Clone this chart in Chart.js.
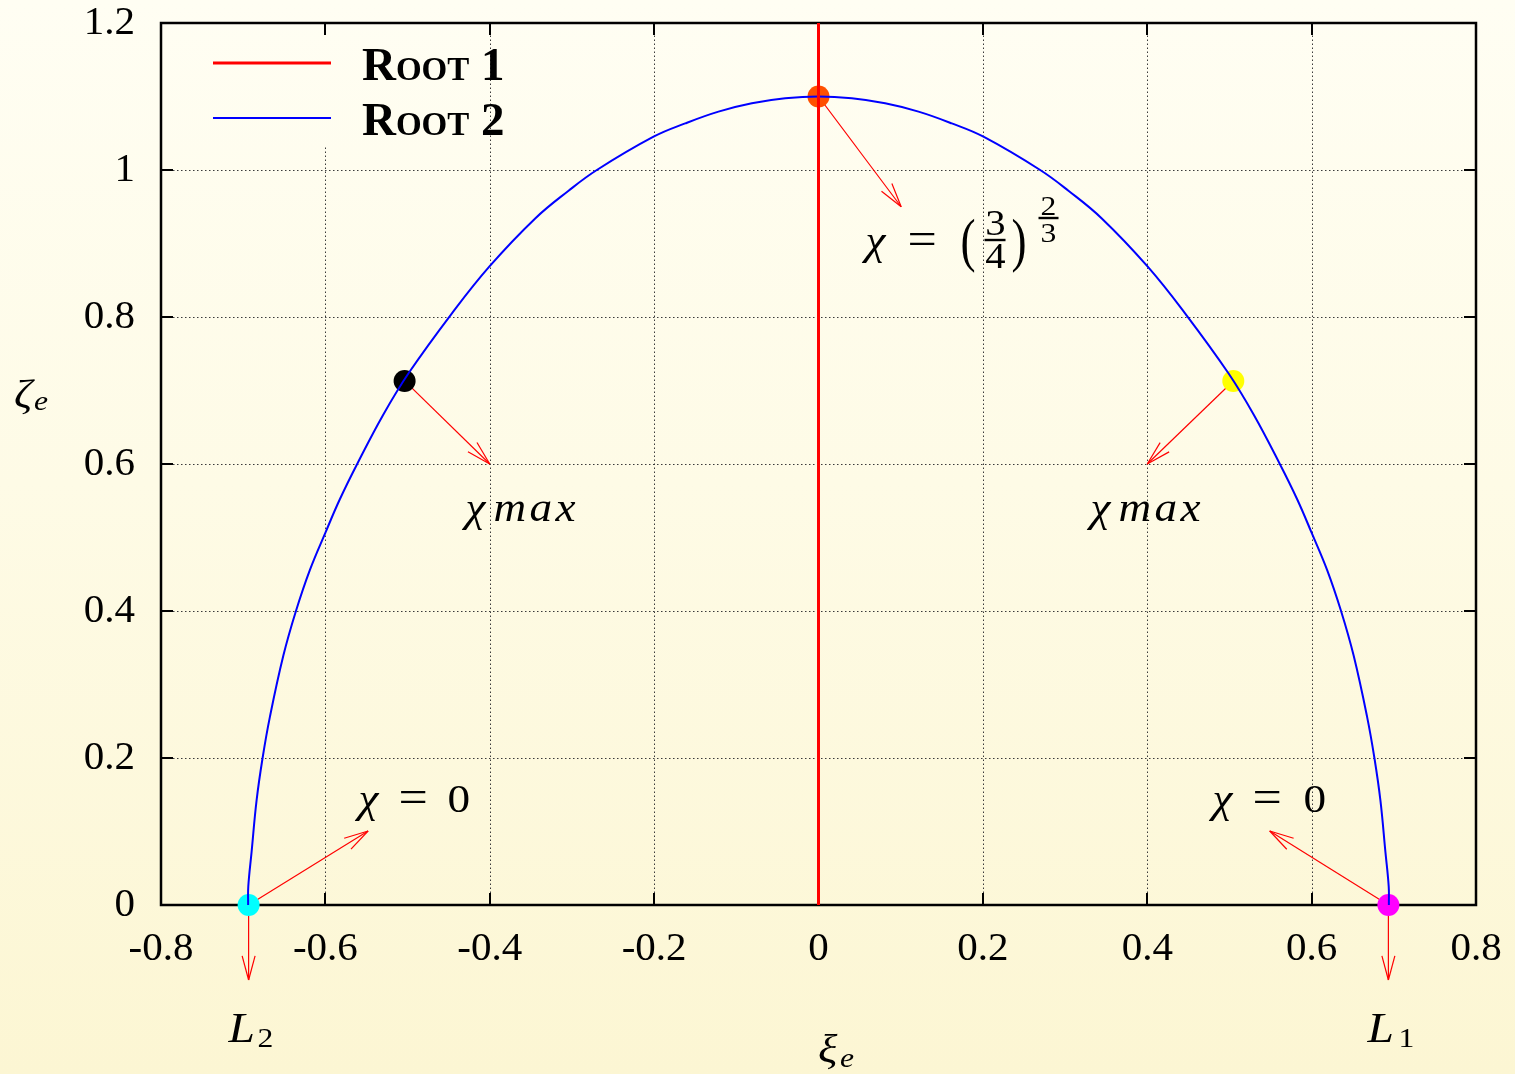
<!DOCTYPE html>
<html>
<head>
<meta charset="utf-8">
<script src="https://cdn.jsdelivr.net/npm/chart.js@4.4.1/dist/chart.umd.min.js"></script>
<style>
  html, body { margin: 0; padding: 0; }
  body {
    width: 1515px; height: 1074px; overflow: hidden;
    background: linear-gradient(to bottom, #fffef3 0%, #fefbe6 45%, #fcf6d3 100%);
  }
  canvas { display: block; }
</style>
</head>
<body>
<canvas id="c" width="1515" height="1074"></canvas>
<script>
// ---- data -------------------------------------------------------------
// Root 2: equilibrium curve zeta_e(xi_e), from the L2 foot over the top to the L1 foot
const root2Xi = [
  -0.694, -0.6938, -0.6898, -0.6837, -0.6764, -0.6675, -0.6512, -0.6358, -0.6188,
  -0.5998, -0.5824, -0.5613, -0.5296, -0.4988, -0.446, -0.4006, -0.3447, -0.3041,
  -0.2697, -0.2007, -0.1622, -0.1217, -0.0811, -0.0405, 0,
  0.0405, 0.0811, 0.1217, 0.1622, 0.2007, 0.2697, 0.3041, 0.3447,
  0.4006, 0.446, 0.4988, 0.5296, 0.5613, 0.5824, 0.5998, 0.6188, 0.6358,
  0.6512, 0.6675, 0.6764, 0.6837, 0.6898, 0.6938, 0.694
];
const root2Zeta = [
  0, 0.025, 0.072, 0.1423, 0.2, 0.256, 0.339, 0.4, 0.456,
  0.507, 0.552, 0.6, 0.667, 0.7234, 0.805, 0.8685, 0.9341, 0.9718,
  1.0, 1.0453, 1.0634, 1.0794, 1.0907, 1.0975, 1.1,
  1.0975, 1.0907, 1.0794, 1.0634, 1.0453, 1.0, 0.9718, 0.9341,
  0.8685, 0.805, 0.7234, 0.667, 0.6, 0.552, 0.507, 0.456, 0.4,
  0.339, 0.256, 0.2, 0.1423, 0.072, 0.025, 0
];
// Root 1: the xi_e = 0 branch
const root1Xi = [0, 0];
const root1Zeta = [0, 1.2];
// special points: chi = (3/4)^(2/3), chi_max (left, right), L2, L1
const markerXi = [0, -0.5036, 0.5047, -0.6934, 0.6934];
const markerZeta = [1.1, 0.713, 0.713, 0, 0];

const seriesNames = ['Root 1', 'Root 2'];
const xTickLabels = ['-0.8', '-0.6', '-0.4', '-0.2', '0', '0.2', '0.4', '0.6', '0.8'];
const yTickLabels = ['0', '0.2', '0.4', '0.6', '0.8', '1', '1.2'];
const xTitle = ['ξ', 'e'];
const yTitle = ['ζ', 'e'];

// ---- styling ----------------------------------------------------------
const markerColors = ['#ff5000', '#000000', '#ffff00', '#00ffff', '#ff00ff'];
const SERIF = '"Liberation Serif", "Times New Roman", serif';
const STRETCH = 1.13;          // math glyphs are set a little wide
const KEY_W = 190, KEY_H = 122; // the key box keeps grid lines out of it

// arrows: from a special point (index into marker arrays) to a target in data units
const arrows = [
  { from: 0, to: [0.1006, 0.950] },
  { from: 1, to: [-0.4, 0.6] },
  { from: 2, to: [0.4, 0.6] },
  { from: 3, to: [-0.548, 0.1007] },
  { from: 4, to: [0.549, 0.1007] },
  { from: 3, to: [-0.6934, -0.102] },
  { from: 4, to: [0.6934, -0.102] }
];

// annotation labels: anchor in data units, pieces offset in pixels from the anchor
const annotations = [
  { at: [0.0572, 0.8857], pieces: [
      { t: 'χ', dx: 0, dy: 0, f: 'italic 40px', a: 'left' },
      { t: '=', dx: 42, dy: 0, f: '46px', a: 'left' },
      { t: '(', dx: 95, dy: 6, f: '40px', a: 'left', sy: 1.5 },
      { t: '3', dx: 130, dy: -19, f: '36px', a: 'center' },
      { bar: [119, 140, -14] },
      { t: '4', dx: 130, dy: 14, f: '36px', a: 'center' },
      { t: ')', dx: 146, dy: 6, f: '40px', a: 'left', sy: 1.5 },
      { t: '2', dx: 183, dy: -39, f: '28px', a: 'center' },
      { bar: [173, 193, -36] },
      { t: '3', dx: 183, dy: -12, f: '28px', a: 'center' }
  ]},
  { at: [-0.4294, 0.5224], pieces: [
      { t: 'χ', dx: 0, dy: 0, f: 'italic 40px', a: 'left' },
      { t: 'max', dx: 28, dy: 0, f: 'italic 40px', a: 'left', sp: 3 }
  ]},
  { at: [0.3309, 0.5224], pieces: [
      { t: 'χ', dx: 0, dy: 0, f: 'italic 40px', a: 'left' },
      { t: 'max', dx: 28, dy: 0, f: 'italic 40px', a: 'left', sp: 3 }
  ]},
  { at: [-0.5596, 0.1265], pieces: [
      { t: 'χ', dx: 0, dy: 0, f: 'italic 40px', a: 'left' },
      { t: '=', dx: 40, dy: 0, f: '46px', a: 'left' },
      { t: '0', dx: 89, dy: 0, f: '40px', a: 'left' }
  ]},
  { at: [0.4793, 0.1265], pieces: [
      { t: 'χ', dx: 0, dy: 0, f: 'italic 40px', a: 'left' },
      { t: '=', dx: 40, dy: 0, f: '46px', a: 'left' },
      { t: '0', dx: 91, dy: 0, f: '40px', a: 'left' }
  ]},
  { at: [-0.7178, -0.1864], pieces: [
      { t: 'L', dx: 0, dy: 0, f: 'italic 42px', a: 'left' },
      { t: '2', dx: 29, dy: 5, f: '28px', a: 'left' }
  ]},
  { at: [0.6679, -0.1864], pieces: [
      { t: 'L', dx: 0, dy: 0, f: 'italic 42px', a: 'left' },
      { t: '1', dx: 31, dy: 5, f: '28px', a: 'left' }
  ]}
];

function put(ctx, txt, x, y, font, align, spacing, sy) {
  ctx.save();
  ctx.font = font;
  ctx.textAlign = align || 'left';
  ctx.textBaseline = 'alphabetic';
  if (spacing) ctx.letterSpacing = spacing + 'px';
  ctx.translate(x, y);
  ctx.scale(STRETCH, sy || 1);
  ctx.fillText(txt, 0, 0);
  ctx.restore();
}

function arrow(ctx, x0, y0, x1, y1) {
  const L = 25, ANG = 15 * Math.PI / 180;
  ctx.beginPath(); ctx.moveTo(x0, y0); ctx.lineTo(x1, y1); ctx.stroke();
  const a = Math.atan2(y1 - y0, x1 - x0);
  [-1, 1].forEach(s => {
    ctx.beginPath();
    ctx.moveTo(x1, y1);
    ctx.lineTo(x1 - L * Math.cos(a + s * ANG), y1 - L * Math.sin(a + s * ANG));
    ctx.stroke();
  });
}

// grid, inward ticks and border, drawn below the curves
const framePlugin = {
  id: 'frame',
  beforeDatasetsDraw(chart) {
    const { ctx, chartArea: { left, right, top, bottom } } = chart;
    const xs = chart.scales.x, ys = chart.scales.y;
    ctx.save();
    ctx.strokeStyle = '#3a3a3a';
    ctx.lineWidth = 1;
    ctx.setLineDash([1.5, 2.5]);
    xs.ticks.forEach(t => {
      if (t.value <= xs.min + 1e-9 || t.value >= xs.max - 1e-9) return;
      const px = Math.round(xs.getPixelForValue(t.value)) + 0.5;
      const y0 = (px < left + KEY_W) ? top + KEY_H : top;
      ctx.beginPath(); ctx.moveTo(px, bottom); ctx.lineTo(px, y0); ctx.stroke();
    });
    ys.ticks.forEach(t => {
      if (t.value <= ys.min + 1e-9 || t.value >= ys.max - 1e-9) return;
      const py = Math.round(ys.getPixelForValue(t.value)) + 0.5;
      const x0 = (py < top + KEY_H) ? left + KEY_W : left;
      ctx.beginPath(); ctx.moveTo(x0, py); ctx.lineTo(right, py); ctx.stroke();
    });
    ctx.setLineDash([]);
    ctx.strokeStyle = '#000';
    ctx.lineWidth = 2;
    const TL = 12;
    xs.ticks.forEach(t => {
      const px = Math.round(xs.getPixelForValue(t.value));
      ctx.beginPath();
      ctx.moveTo(px, bottom); ctx.lineTo(px, bottom - TL);
      ctx.moveTo(px, top); ctx.lineTo(px, top + TL);
      ctx.stroke();
    });
    ys.ticks.forEach(t => {
      const py = Math.round(ys.getPixelForValue(t.value));
      ctx.beginPath();
      ctx.moveTo(left, py); ctx.lineTo(left + TL, py);
      ctx.moveTo(right, py); ctx.lineTo(right - TL, py);
      ctx.stroke();
    });
    ctx.lineWidth = 2.5;
    ctx.strokeRect(left, top, right - left, bottom - top);
    ctx.restore();
  },
  // arrows go under the special points
  beforeDatasetDraw(chart, args) {
    if (args.index !== 2) return;
    const { ctx } = chart;
    const xs = chart.scales.x, ys = chart.scales.y;
    ctx.save();
    ctx.strokeStyle = '#ff0000';
    ctx.lineWidth = 1.2;
    arrows.forEach(a => {
      arrow(ctx,
        xs.getPixelForValue(markerXi[a.from]), ys.getPixelForValue(markerZeta[a.from]),
        xs.getPixelForValue(a.to[0]), ys.getPixelForValue(a.to[1]));
    });
    ctx.restore();
  },
  afterDatasetsDraw(chart) {
    const { ctx, chartArea: { left, top } } = chart;
    const xs = chart.scales.x, ys = chart.scales.y;
    ctx.save();
    ctx.fillStyle = '#000';
    // annotation labels
    annotations.forEach(an => {
      const ax = xs.getPixelForValue(an.at[0]);
      const ay = ys.getPixelForValue(an.at[1]);
      an.pieces.forEach(p => {
        if (p.bar) {
          ctx.fillRect(ax + p.bar[0], ay + p.bar[2] - 1.2, p.bar[1] - p.bar[0], 2.4);
        } else {
          put(ctx, p.t, ax + p.dx, ay + p.dy, p.f + ' ' + SERIF, p.a, p.sp, p.sy);
        }
      });
    });
    // axis titles
    put(ctx, xTitle[0], 818, 1062, 'italic 40px ' + SERIF, 'left');
    put(ctx, xTitle[1], 840, 1067, 'italic 28px ' + SERIF, 'left');
    put(ctx, yTitle[0], 14, 407, 'italic 40px ' + SERIF, 'left');
    put(ctx, yTitle[1], 34, 410, 'italic 28px ' + SERIF, 'left');
    // key
    const ds = chart.data.datasets;
    [0, 1].forEach(i => {
      const ly = top + 40 + i * 55;
      ctx.strokeStyle = ds[i].borderColor;
      ctx.lineWidth = ds[i].borderWidth;
      ctx.beginPath(); ctx.moveTo(left + 52, ly); ctx.lineTo(left + 170, ly); ctx.stroke();
      ctx.font = 'small-caps bold 47px ' + SERIF;
      ctx.textAlign = 'left';
      ctx.textBaseline = 'alphabetic';
      ctx.fillText(ds[i].label, left + 201, top + 57 + i * 55);
    });
    ctx.restore();
  }
};

const toPoints = (xs, ys) => xs.map((x, i) => ({ x, y: ys[i] }));

// keep the plot frame where the layout padding puts it
const noOverhang = s => { s.paddingTop = 0; s.paddingBottom = 0; s.paddingLeft = 0; s.paddingRight = 0; };

new Chart(document.getElementById('c'), {
  type: 'scatter',
  data: {
    datasets: [
      { label: seriesNames[0], data: toPoints(root1Xi, root1Zeta), showLine: true,
        borderColor: '#ff0000', borderWidth: 3, pointRadius: 0 },
      { label: seriesNames[1], data: toPoints(root2Xi, root2Zeta), showLine: true,
        borderColor: '#0000ff', borderWidth: 2, pointRadius: 0, tension: 0.4 },
      { label: 'points', data: toPoints(markerXi, markerZeta), showLine: false,
        pointRadius: 11, pointBackgroundColor: markerColors, pointBorderWidth: 0,
        clip: false }
    ]
  },
  options: {
    responsive: false,
    animation: false,
    devicePixelRatio: 1,
    layout: { padding: { top: 23, right: 39, left: 0, bottom: 0 } },
    plugins: { legend: { display: false }, tooltip: { enabled: false } },
    events: [],
    scales: {
      x: {
        type: 'linear', min: -0.8, max: 0.8,
        ticks: { stepSize: 0.2, autoSkip: false, maxRotation: 0,
          callback: (v, i) => xTickLabels[i],
          font: { family: SERIF, size: 41 }, color: '#000', padding: 20 },
        grid: { display: false, drawTicks: false },
        border: { display: false },
        afterFit: s => { s.height = 169; noOverhang(s); }
      },
      y: {
        type: 'linear', min: 0, max: 1.2,
        ticks: { stepSize: 0.2, autoSkip: false,
          callback: (v, i) => yTickLabels[i],
          font: { family: SERIF, size: 41 }, color: '#000', padding: 26 },
        grid: { display: false, drawTicks: false },
        border: { display: false },
        afterFit: s => { s.width = 161; noOverhang(s); }
      }
    }
  },
  plugins: [framePlugin]
});
</script>
</body>
</html>
